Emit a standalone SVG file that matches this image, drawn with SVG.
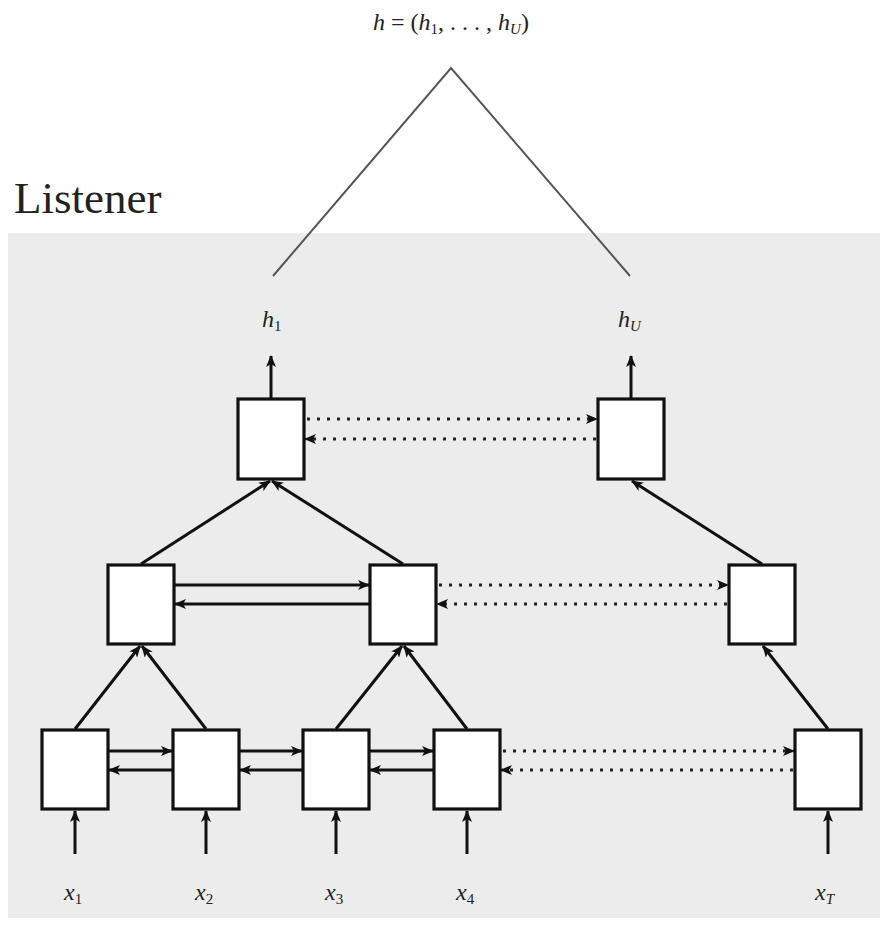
<svg xmlns="http://www.w3.org/2000/svg" width="880" height="930" viewBox="0 0 880 930">
  <defs>
    <marker id="ah" markerUnits="userSpaceOnUse" markerWidth="12" markerHeight="10" refX="11" refY="5" orient="auto">
      <path d="M0,0 L12,5 L0,10 L3,5 Z" fill="#111"/>
    </marker>
    <style>
      .cell { fill: #ffffff; stroke: #111; stroke-width: 3.2; }
      .wire { stroke: #111; stroke-width: 3; fill: none; marker-end: url(#ah); }
      .dots { stroke: #222; stroke-width: 3; fill: none; stroke-dasharray: 3 7; marker-end: url(#ah); }
      .math { font-style: italic; fill: #222; }
      .title { fill: #222; }
    </style>
  </defs>

  <rect width="880" height="930" fill="#ffffff"/>
  <!-- listener panel -->
  <rect x="8" y="233" width="872" height="685" fill="#ececec"/>
  <text class="title" font-family="'Liberation Serif', 'Times New Roman', serif" x="14" y="213" font-size="45">Listener</text>

  <!-- output sequence -->
  <g id="output" font-family="'Liberation Serif', 'Times New Roman', serif">
    <text class="math" x="451" y="30" font-size="24" text-anchor="middle">h <tspan font-style="normal">= (</tspan>h<tspan font-size="15" dy="4" font-style="normal">1</tspan><tspan dy="-4" font-style="normal">, . . . , </tspan>h<tspan font-size="15" dy="4">U</tspan><tspan dy="-4" font-style="normal">)</tspan></text>
    <polyline points="273,276 451,68 630,276" fill="none" stroke="#555" stroke-width="2"/>
  </g>

  <g font-family="'Liberation Serif', 'Times New Roman', serif">
  <!-- top layer -->
  <g id="top1"><rect class="cell" x="238" y="399" width="66" height="80"/><text class="math" x="262" y="327" font-size="24">h<tspan font-size="15" dy="4" font-style="normal">1</tspan></text></g>
  <g id="topU"><rect class="cell" x="598" y="399" width="66" height="80"/><text class="math" x="618" y="327" font-size="24">h<tspan font-size="15" dy="4">U</tspan></text></g>

  <!-- middle layer -->
  <g id="mid1"><rect class="cell" x="108" y="565" width="66" height="79"/></g>
  <g id="mid2"><rect class="cell" x="370" y="565" width="66" height="79"/></g>
  <g id="mid3"><rect class="cell" x="729" y="565" width="66" height="79"/></g>

  <!-- bottom layer -->
  <g id="bot1"><rect class="cell" x="42" y="730" width="66" height="79"/><text class="math" x="64" y="900" font-size="24">x<tspan font-size="15" dy="4" font-style="normal">1</tspan></text></g>
  <g id="bot2"><rect class="cell" x="173" y="730" width="66" height="79"/><text class="math" x="195" y="900" font-size="24">x<tspan font-size="15" dy="4" font-style="normal">2</tspan></text></g>
  <g id="bot3"><rect class="cell" x="303" y="730" width="66" height="79"/><text class="math" x="325" y="900" font-size="24">x<tspan font-size="15" dy="4" font-style="normal">3</tspan></text></g>
  <g id="bot4"><rect class="cell" x="434" y="730" width="66" height="79"/><text class="math" x="456" y="900" font-size="24">x<tspan font-size="15" dy="4" font-style="normal">4</tspan></text></g>
  <g id="botT"><rect class="cell" x="795" y="730" width="66" height="79"/><text class="math" x="815" y="900" font-size="24">x<tspan font-size="15" dy="4">T</tspan></text></g>
  </g>

  <g id="connectors">
    <!-- outputs -->
    <line class="wire" x1="271" y1="398" x2="271" y2="356"/>
    <line class="wire" x1="631" y1="398" x2="631" y2="356"/>
    <!-- inputs -->
    <line class="wire" x1="75" y1="854" x2="75" y2="811"/>
    <line class="wire" x1="206" y1="854" x2="206" y2="811"/>
    <line class="wire" x1="336" y1="854" x2="336" y2="811"/>
    <line class="wire" x1="467" y1="854" x2="467" y2="811"/>
    <line class="wire" x1="828" y1="854" x2="828" y2="811"/>
    <!-- bottom to middle -->
    <line class="wire" x1="75" y1="729" x2="140" y2="646"/>
    <line class="wire" x1="206" y1="729" x2="142" y2="646"/>
    <line class="wire" x1="336" y1="729" x2="402" y2="646"/>
    <line class="wire" x1="467" y1="729" x2="404" y2="646"/>
    <line class="wire" x1="828" y1="729" x2="763" y2="646"/>
    <!-- middle to top -->
    <line class="wire" x1="141" y1="564" x2="270" y2="481"/>
    <line class="wire" x1="403" y1="564" x2="272" y2="481"/>
    <line class="wire" x1="762" y1="564" x2="632" y2="481"/>
    <!-- bottom recurrences -->
    <line class="wire" x1="109" y1="751" x2="172" y2="751"/>
    <line class="wire" x1="172" y1="770" x2="109" y2="770"/>
    <line class="wire" x1="240" y1="751" x2="302" y2="751"/>
    <line class="wire" x1="302" y1="770" x2="240" y2="770"/>
    <line class="wire" x1="370" y1="751" x2="433" y2="751"/>
    <line class="wire" x1="433" y1="770" x2="370" y2="770"/>
    <line class="dots" x1="503" y1="751" x2="794" y2="751"/>
    <line class="dots" x1="793" y1="770" x2="501" y2="770"/>
    <!-- middle recurrences -->
    <line class="wire" x1="175" y1="585" x2="369" y2="585"/>
    <line class="wire" x1="369" y1="604" x2="175" y2="604"/>
    <line class="dots" x1="439" y1="585" x2="728" y2="585"/>
    <line class="dots" x1="727" y1="604" x2="437" y2="604"/>
    <!-- top recurrences -->
    <line class="dots" x1="307" y1="419" x2="597" y2="419"/>
    <line class="dots" x1="596" y1="439" x2="305" y2="439"/>
  </g>
</svg>
